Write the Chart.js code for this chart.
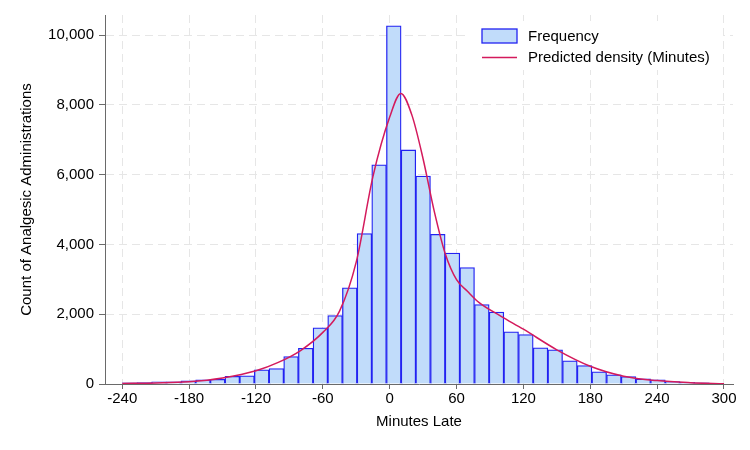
<!DOCTYPE html>
<html>
<head>
<meta charset="utf-8">
<script src="https://cdn.jsdelivr.net/npm/chart.js@4.4.0/dist/chart.umd.min.js"></script>
<style>
    html, body { margin: 0; padding: 0; background: #fff; }
    #wrap { width: 750px; height: 450px; }
</style>
</head>
<body>
<div id="wrap"><canvas id="histChart" width="750" height="450"></canvas></div>
<script>
// Histogram bins (bin midpoints, minutes late) and counts
const binMids = [-233.41, -220.24, -207.07, -193.90, -180.73, -167.56, -154.39, -141.22, -128.05, -114.88,
    -101.71, -88.54, -75.37, -62.20, -49.02, -35.85, -22.68, -9.51, 3.66, 16.83,
    30.00, 43.17, 56.34, 69.51, 82.68, 95.85, 109.02, 122.20, 135.37, 148.54,
    161.71, 174.88, 188.05, 201.22, 214.39, 227.56, 240.73, 253.90, 267.07, 280.24, 293.41];
const binCounts = [32, 40, 60, 60, 89, 118, 135, 221, 233, 405,
    442, 787, 1025, 1611, 1964, 2759, 4310, 6285, 10270, 6710,
    5960, 4290, 3752, 3336, 2280, 2064, 1496, 1418, 1036, 979,
    663, 528, 347, 261, 212, 146, 118, 69, 49, 32, 20];

// Predicted density curve
const densityMinutes = [-240, -210, -180, -150, -120, -100, -80, -60, -45, -30, -15, 0, 10, 20, 30, 40, 50, 60, 70, 80, 100, 120, 150, 180, 210, 240, 270, 300];
const densityCounts = [15, 30, 66, 175, 380, 620, 960, 1480, 2090, 3500, 5950, 7650, 8330, 7700, 6450, 4950, 3720, 2990, 2650, 2340, 1940, 1570, 980, 510, 225, 97, 38, 9];

const xTicks = [-240, -180, -120, -60, 0, 60, 120, 180, 240, 300];
const yTicks = [0, 2000, 4000, 6000, 8000, 10000];

const seriesLabels = ['Frequency', 'Predicted density (Minutes)'];

Chart.defaults.font.family = '"Liberation Sans", Arial, Helvetica, sans-serif';
Chart.defaults.font.size = 15;
Chart.defaults.color = '#000';

const barFill = '#c1dcfa';
const barEdge = '#2222f2';
const curveColor = '#d41a5c';
const gridColor = '#e6e6e6';
const axisColor = '#6a6a6a';

// Legend drawn inside the plot, with a white box behind it
const insideLegend = {
    id: 'insideLegend',
    afterDatasetsDraw(chart) {
        const ctx = chart.ctx;
        ctx.save();
        ctx.fillStyle = '#fff';
        ctx.fillRect(467, 21, 256, 49);

        ctx.fillStyle = barFill;
        ctx.fillRect(482, 29, 35, 14);
        ctx.strokeStyle = barEdge;
        ctx.lineWidth = 1.3;
        ctx.strokeRect(482, 29, 35, 14);

        ctx.strokeStyle = curveColor;
        ctx.lineWidth = 1.5;
        ctx.beginPath();
        ctx.moveTo(482, 57.5);
        ctx.lineTo(517, 57.5);
        ctx.stroke();

        ctx.fillStyle = '#000';
        ctx.font = '15px "Liberation Sans", Arial, sans-serif';
        ctx.textBaseline = 'middle';
        ctx.fillText(seriesLabels[0], 528, 36.5);
        ctx.fillText(seriesLabels[1], 528, 58);
        ctx.restore();
    }
};

const ctx = document.getElementById('histChart').getContext('2d');
new Chart(ctx, {
    type: 'bar',
    data: {
        datasets: [{
            type: 'bar',
            label: seriesLabels[0],
            data: binMids.map((x, i) => ({ x: x, y: binCounts[i] })),
            backgroundColor: barFill,
            borderColor: barEdge,
            borderWidth: 1.3,
            barPercentage: 1,
            categoryPercentage: 1,
            order: 2
        }, {
            type: 'line',
            label: seriesLabels[1],
            data: densityMinutes.map((x, i) => ({ x: x, y: densityCounts[i] })),
            borderColor: curveColor,
            borderWidth: 1.5,
            pointRadius: 0,
            fill: false,
            cubicInterpolationMode: 'monotone',
            order: 1
        }]
    },
    options: {
        responsive: false,
        animation: false,
        layout: {
            autoPadding: false,
            padding: { left: 0, top: 15, right: 17, bottom: 0 }
        },
        plugins: {
            legend: { display: false },
            tooltip: { enabled: false }
        },
        scales: {
            x: {
                type: 'linear',
                offset: false,
                min: -255.5,
                max: 308.1,
                afterBuildTicks: (scale) => { scale.ticks = xTicks.map(v => ({ value: v })); },
                afterFit: (scale) => { scale.height = 66; },
                ticks: {
                    padding: 1,
                    maxRotation: 0,
                    autoSkip: false,
                    callback: (v) => String(v)
                },
                grid: {
                    offset: false,
                    color: gridColor,
                    tickColor: axisColor,
                    tickLength: 5,
                    tickBorderDash: []
                },
                border: { color: axisColor, width: 1, dash: [8, 5] },
                title: {
                    display: true,
                    text: 'Minutes Late',
                    font: { size: 15, lineHeight: 1.2 },
                    padding: { top: 0, bottom: 19 }
                }
            },
            y: {
                min: 0,
                max: 10577,
                afterBuildTicks: (scale) => { scale.ticks = yTicks.map(v => ({ value: v })); },
                afterFit: (scale) => { scale.width = 105; },
                ticks: {
                    padding: 5,
                    autoSkip: false,
                    callback: (v) => v.toLocaleString('en-US')
                },
                grid: {
                    color: gridColor,
                    tickColor: axisColor,
                    tickLength: 6,
                    tickBorderDash: []
                },
                border: { color: axisColor, width: 1, dash: [8, 5] },
                title: {
                    display: true,
                    text: 'Count of Analgesic Administrations',
                    font: { size: 15, lineHeight: 1.2 },
                    padding: { top: 18, bottom: 0 }
                }
            }
        }
    },
    plugins: [insideLegend]
});
</script>
</body>
</html>
